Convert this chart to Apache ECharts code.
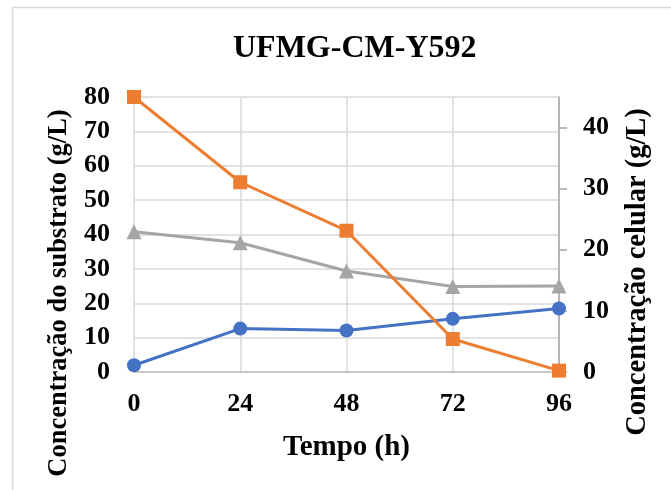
<!DOCTYPE html>
<html>
<head>
<meta charset="utf-8">
<script src="https://cdn.jsdelivr.net/npm/echarts@6/dist/echarts.min.js"></script>
<style>
html,body{margin:0;padding:0;background:#fff;}
#chart{width:671px;height:490px;}
</style>
</head>
<body>
<div id="chart"></div>
<script>
var titleText = 'UFMG-CM-Y592';
var timeHours = [0, 24, 48, 72, 96];
var substrateOrange = [80, 55.2, 41.1, 9.6, 0.4];
var substrateGray = [40.8, 37.6, 29.4, 24.9, 25.0];
var cellBlue = [1.1, 7.1, 6.8, 8.7, 10.4];
var leftTicks = [0, 10, 20, 30, 40, 50, 60, 70, 80];
var rightTicks = [0, 10, 20, 30, 40];
var xTicks = [0, 24, 48, 72, 96];

function pairs(xs, ys) { return xs.map(function (x, i) { return [x, ys[i]]; }); }

var font = '"Liberation Serif", "Times New Roman", serif';
var chart = echarts.init(document.getElementById('chart'), null, {renderer: 'canvas'});
chart.setOption({
  animation: false,
  backgroundColor: '#fff',
  graphic: [{
    type: 'rect', silent: true,
    shape: {x: 12.5, y: 7.5, width: 700, height: 500},
    style: {fill: 'none', stroke: '#d9d9d9', lineWidth: 1.5}
  }],
  title: {
    text: titleText, left: 228, top: 28,
    textStyle: {fontFamily: font, fontWeight: 'bold', fontSize: 32, color: '#000'}
  },
  grid: {left: 134, right: 112, top: 97, bottom: 118, containLabel: false},
  xAxis: {
    type: 'value', min: 0, max: 96, interval: 24,
    name: 'Tempo (h)', nameLocation: 'middle', nameGap: 61,
    nameTextStyle: {fontFamily: font, fontWeight: 'bold', fontSize: 29, color: '#000'},
    axisLine: {show: true, lineStyle: {color: '#bfbfbf', width: 1.5}},
    axisTick: {show: false},
    axisLabel: {fontFamily: font, fontWeight: 'bold', fontSize: 26, color: '#000', margin: 19,
      customValues: xTicks},
    splitLine: {show: true, lineStyle: {color: '#d9d9d9', width: 1.5}}
  },
  yAxis: [{
    type: 'value', min: 0, max: 80, interval: 10, position: 'left',
    name: 'Concentração do substrato (g/L)', nameLocation: 'middle', nameGap: 57, nameRotate: 90,
    nameTextStyle: {fontFamily: font, fontWeight: 'bold', fontSize: 26.5, color: '#000', padding: [0, 117, 0, 0]},
    axisLine: {show: false},
    axisTick: {show: false},
    axisLabel: {fontFamily: font, fontWeight: 'bold', fontSize: 26, color: '#000', margin: 24,
      customValues: leftTicks},
    splitLine: {show: true, lineStyle: {color: '#d9d9d9', width: 1.5}}
  }, {
    type: 'value', min: 0, max: 45, interval: 10, position: 'right',
    name: 'Concentração celular (g/L)', nameLocation: 'middle', nameGap: 64, nameRotate: 90,
    nameTextStyle: {fontFamily: font, fontWeight: 'bold', fontSize: 28.5, color: '#000', padding: [0, 75, 0, 0]},
    axisLine: {show: true, lineStyle: {color: '#a6a6a6', width: 1.5}},
    axisTick: {show: true, length: 8, lineStyle: {color: '#a6a6a6', width: 1.5}, customValues: rightTicks},
    axisLabel: {fontFamily: font, fontWeight: 'bold', fontSize: 26, color: '#000', margin: 24,
      customValues: rightTicks},
    splitLine: {show: false}
  }],
  series: [{
    name: 'Substrato', type: 'line', yAxisIndex: 0,
    data: pairs(timeHours, substrateGray),
    symbol: 'triangle', symbolSize: 15,
    lineStyle: {color: '#a5a5a5', width: 3},
    itemStyle: {color: '#a5a5a5'}
  }, {
    name: 'Celular', type: 'line', yAxisIndex: 1,
    data: pairs(timeHours, cellBlue),
    symbol: 'circle', symbolSize: 14,
    lineStyle: {color: '#4472c4', width: 3},
    itemStyle: {color: '#4472c4'}
  }, {
    name: 'Glicose', type: 'line', yAxisIndex: 0,
    data: pairs(timeHours, substrateOrange),
    symbol: 'rect', symbolSize: 14,
    lineStyle: {color: '#ed7d31', width: 3},
    itemStyle: {color: '#ed7d31'}
  }]
});
</script>
</body>
</html>
